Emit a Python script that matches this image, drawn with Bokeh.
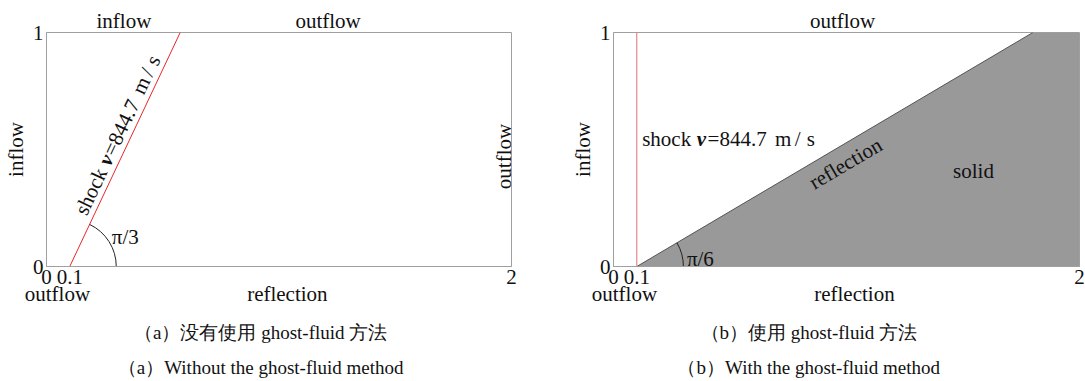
import math
from bokeh.plotting import figure
from bokeh.models import Range1d, FixedTicker, Label, LinearAxis
from bokeh.layouts import row
from bokeh.embed import file_html
from bokeh.resources import INLINE

# ---------------- data ----------------
x_ticks = [0, 0.1, 2]
x_tick_labels = ["0", "0.1", "2"]
y_ticks = [0, 1]
y_tick_labels = ["0", "1"]

# panel (a): oblique shock line
shock_a_x = [0.1, 0.575]
shock_a_y = [0.0, 1.0]
# panel (b): vertical shock line and solid wedge
shock_b_x = [0.1, 0.1]
shock_b_y = [0.0, 1.0]
solid_x = [0.1, 2.0, 2.0, 1.8]
solid_y = [0.0, 0.0, 1.0, 1.0]
arc_x = [0.1]
arc_y = [0.0]
arc_radius = 0.2

# boundary-condition labels (positions along the domain edges)
a_top_pos, a_top_lab = [0.333, 1.211], ["inflow", "outflow"]
a_bot_pos, a_bot_lab = [0.047, 1.036], ["outflow", "reflection"]
b_top_pos, b_top_lab = [0.983], ["outflow"]
b_bot_pos, b_bot_lab = [0.047, 1.034], ["outflow", "reflection"]
left_pos, left_lab = [0.5], ["inflow"]

shock_text_parts = ["shock", "v", "=844.7", "m", "/", "s"]
shock_text_styles = ["normal", "bold italic", "normal", "normal", "normal", "normal"]
shock_text_offsets = [0, 55, 66, 134, 154, 166]   # px along the text direction

caption_a = ["（a）没有使用 ghost-fluid 方法", "（a）Without the ghost-fluid method"]
caption_b = ["（b）使用 ghost-fluid 方法", "（b）With the ghost-fluid method"]
caption_a_pos = 0.921
caption_b_pos = 0.838

# ---------------- style ----------------
SERIF = "Liberation Serif"
CAP_FONT = "Liberation Serif"
FS = "21px"
CAP_FS = "19px"
GRAY = "#a0a0a0"
TXT = "#111111"

angle_a = math.atan2(shock_a_y[1] - shock_a_y[0], shock_a_x[1] - shock_a_x[0])
angle_b = math.atan2(solid_y[3] - solid_y[0], solid_x[3] - solid_x[0])


def style_axis(ax, standoff, font=SERIF, size=FS, line=True):
    ax.axis_line_color = GRAY if line else None
    ax.major_tick_line_color = None
    ax.minor_tick_line_color = None
    ax.major_tick_out = 0
    ax.major_tick_in = 0
    ax.minor_tick_out = 0
    ax.minor_tick_in = 0
    ax.major_label_text_font = font
    ax.major_label_text_font_size = size
    ax.major_label_text_color = TXT
    ax.major_label_standoff = standoff


def extra_axis(p, side, ticks, labels, standoff, font=SERIF, size=FS,
               orientation="horizontal"):
    ax = LinearAxis(ticker=FixedTicker(ticks=ticks),
                    major_label_overrides={t: s for t, s in zip(ticks, labels)},
                    major_label_orientation=orientation)
    style_axis(ax, standoff, font, size, line=False)
    p.add_layout(ax, side)
    return ax


def make_fig(width, bl, br):
    p = figure(width=width, height=381,
               x_range=Range1d(0, 2), y_range=Range1d(0, 1),
               output_backend="svg", toolbar_location=None,
               min_border_left=bl, min_border_right=br,
               min_border_top=32, min_border_bottom=115)
    p.grid.visible = False
    p.outline_line_color = GRAY
    p.outline_line_width = 1
    p.background_fill_color = "white"
    p.border_fill_color = "white"
    style_axis(p.xaxis[0], 3)
    style_axis(p.yaxis[0], 3)
    p.xaxis.ticker = FixedTicker(ticks=x_ticks)
    p.xaxis.major_label_overrides = {t: s for t, s in zip(x_ticks, x_tick_labels)}
    p.yaxis.ticker = FixedTicker(ticks=y_ticks)
    p.yaxis.major_label_overrides = {t: s for t, s in zip(y_ticks, y_tick_labels)}
    return p


def lab(p, x, y, text, angle=0.0, align="center", baseline="alphabetic",
        size=FS, style="normal", font=SERIF):
    p.add_layout(Label(x=x, y=y, text=text, angle=angle, text_align=align,
                       text_baseline=baseline, text_font=font,
                       text_font_size=size, text_font_style=style,
                       text_color=TXT))


# ---------------- panel (a) ----------------
p1 = make_fig(567, 42, 56)
p1.line(shock_a_x, shock_a_y, line_color="#e8262a", line_width=1)
p1.arc(x=arc_x, y=arc_y, radius=arc_radius, start_angle=0, end_angle=angle_a,
       line_color="#222222", line_width=1)

extra_axis(p1, "above", a_top_pos, a_top_lab, 0)
extra_axis(p1, "below", a_bot_pos, a_bot_lab, -5)
extra_axis(p1, "below", [caption_a_pos], [caption_a[0]], 13, CAP_FONT, CAP_FS)
extra_axis(p1, "below", [caption_a_pos], [caption_a[1]], 11, CAP_FONT, CAP_FS)
extra_axis(p1, "left", left_pos, left_lab, 2, orientation="vertical")

lab(p1, 1.968, 0.47, "outflow", angle=math.pi / 2, baseline="middle")
lab(p1, 0.281, 0.124, "π/3", align="left")

PXA = 234.5
ux, uy = math.cos(angle_a), math.sin(angle_a)
nx, ny = -uy, ux
start_along = 52.5 / PXA
perp = 13.0 / PXA
sx = shock_a_x[0] + ux * start_along + nx * perp
sy = shock_a_y[0] + uy * start_along + ny * perp
for t, st, off in zip(shock_text_parts, shock_text_styles, shock_text_offsets):
    lab(p1, sx + ux * off / PXA, sy + uy * off / PXA, t, angle=angle_a,
        align="left", style=st)

# ---------------- panel (b) ----------------
p2 = make_fig(518, 42, 6)
p2.patch(solid_x, solid_y, fill_color="#999999", line_color=None)
p2.line([solid_x[0], solid_x[3]], [solid_y[0], solid_y[3]], line_color="#555555", line_width=1)
p2.line(shock_b_x, shock_b_y, line_color="#e07070", line_width=1)
p2.arc(x=arc_x, y=arc_y, radius=arc_radius, start_angle=0, end_angle=angle_b,
       line_color="#222222", line_width=1)

extra_axis(p2, "above", b_top_pos, b_top_lab, 0)
extra_axis(p2, "below", b_bot_pos, b_bot_lab, -5)
extra_axis(p2, "below", [caption_b_pos], [caption_b[0]], 13, CAP_FONT, CAP_FS)
extra_axis(p2, "below", [caption_b_pos], [caption_b[1]], 11, CAP_FONT, CAP_FS)
extra_axis(p2, "left", left_pos, left_lab, 2, orientation="vertical")

lab(p2, 0.996, 0.44, "reflection", angle=angle_b, baseline="middle")
lab(p2, 1.545, 0.41, "solid", baseline="middle")
lab(p2, 0.315, 0.034, "π/6", align="left")

PXB = 235.0
bx, by = 0.123, 0.545
for t, st, off in zip(shock_text_parts, shock_text_styles, shock_text_offsets):
    lab(p2, bx + off / PXB, by, t, align="left", style=st)

layout = row(p1, p2)
open("out.html", "w").write(file_html(layout, INLINE))
